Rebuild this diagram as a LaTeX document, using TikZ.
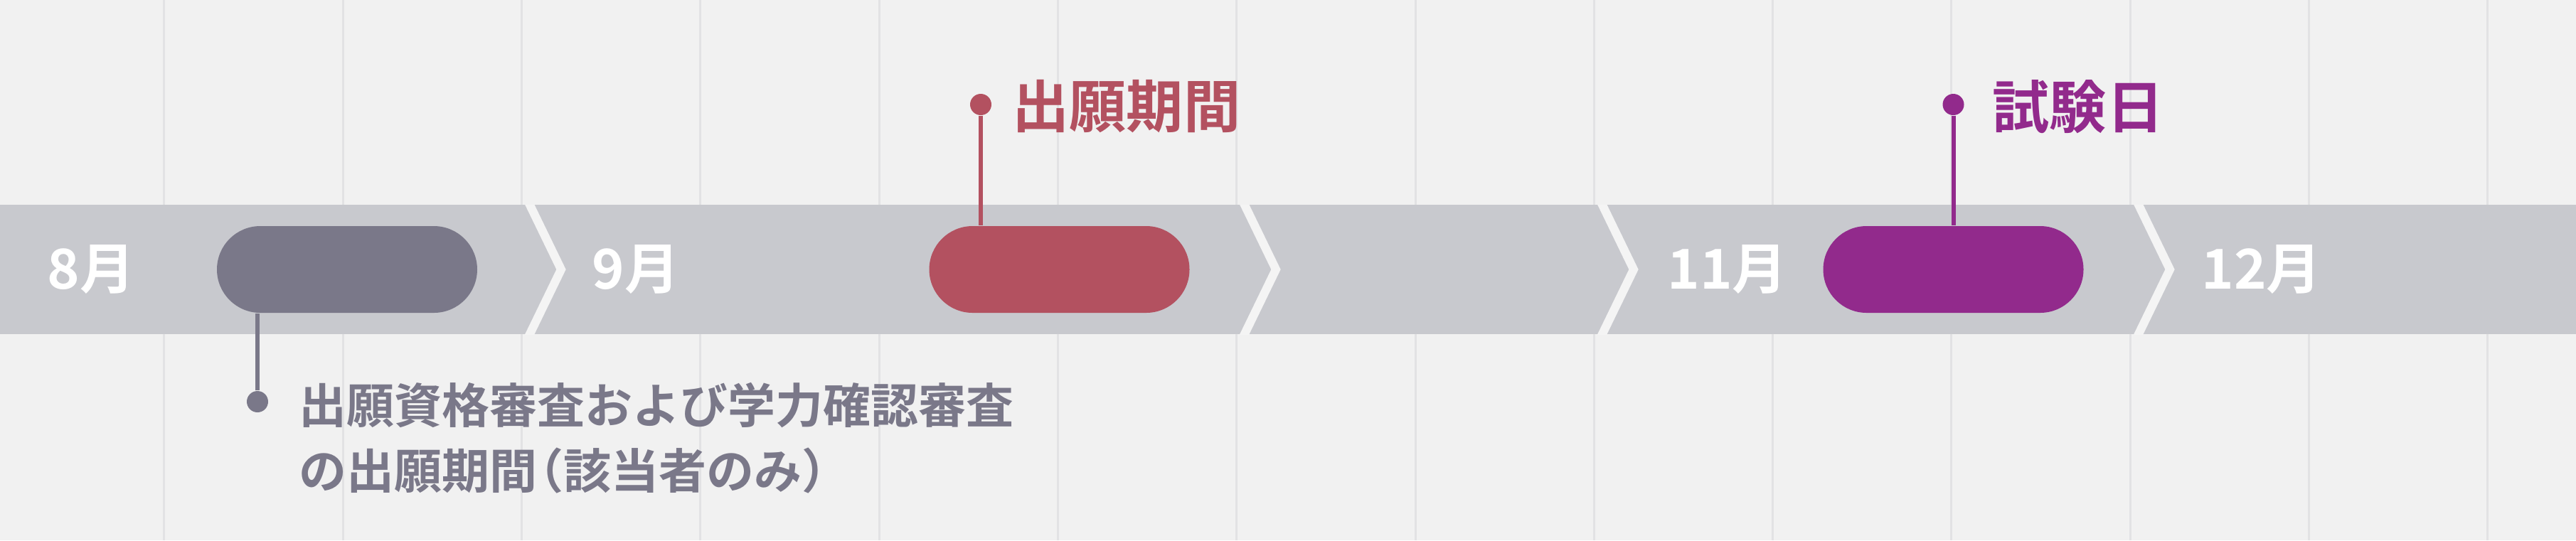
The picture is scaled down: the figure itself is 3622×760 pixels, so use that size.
\documentclass[tikz,border=0pt]{standalone}
\usepackage{fontspec}
\newfontfamily\jpb{Noto Sans CJK JP Bold}
\definecolor{bg}{HTML}{F1F1F1}
\definecolor{gridc}{HTML}{E2E2E4}
\definecolor{bandc}{HTML}{C8C9CE}
\definecolor{gapc}{HTML}{F4F4F4}
\definecolor{grayc}{HTML}{7A7889}
\definecolor{redc}{HTML}{B35160}
\definecolor{purplec}{HTML}{922A8C}

\begin{document}
\begin{tikzpicture}[x=0.1mm,y=-0.1mm,
  month/.style={anchor=west,inner sep=0,text=white,font=\jpb\fontsize{22pt}{22pt}\selectfont},
  title/.style={anchor=west,inner sep=0,font=\jpb\fontsize{22.8pt}{22.8pt}\selectfont},
  pill/.style={rounded corners=6.1mm,minimum width=36.6mm,minimum height=12.2mm,inner sep=0},
  pin/.style={circle,inner sep=0,minimum size=3mm},
  stem/.style={line width=0.6mm}]
\useasboundingbox (0,0) rectangle (3622,760);
\fill[bg] (0,0) rectangle (3622,760);
\draw[gridc,line width=0.3mm] (230,0) -- (230,760) (482,0) -- (482,760) (733,0) -- (733,760)
  (984,0) -- (984,760) (1236,0) -- (1236,760) (1487,0) -- (1487,760) (1738,0) -- (1738,760)
  (1990,0) -- (1990,760) (2241,0) -- (2241,760) (2492,0) -- (2492,760) (2743,0) -- (2743,760)
  (2995,0) -- (2995,760) (3246,0) -- (3246,760) (3497,0) -- (3497,760);

% month band
\fill[bandc] (0,288) rectangle (3622,470);
\begin{scope}
\clip (0,288) rectangle (3622,470);
\draw[gapc,line width=1.2mm] (741,280) -- (789,379) -- (741,478);
\draw[gapc,line width=1.2mm] (1746,280) -- (1794,379) -- (1746,478);
\draw[gapc,line width=1.2mm] (2249,280) -- (2297,379) -- (2249,478);
\draw[gapc,line width=1.2mm] (3003,280) -- (3051,379) -- (3003,478);
\end{scope}

\node[month] (aug) at (66,379) {8月};
\node[month] (sep) at (832,379) {9月};
\node[month] (nov) at (2344,379) {11月};
\node[month] (dec) at (3095,379) {12月};

% periods
\node[pill,fill=grayc] (screen) at (488,379) {};
\node[pill,fill=redc] (appl) at (1489.5,379) {};
\node[pill,fill=purplec] (exam) at (2746.5,379) {};

\node[pin,fill=grayc] (screendot) at (362,565) {};
\node[pin,fill=redc] (appldot) at (1379,147) {};
\node[pin,fill=purplec] (examdot) at (2746.5,147) {};
\draw[stem,grayc] (screendot) -- (screendot |- screen.south);
\draw[stem,redc] (appldot) -- (appldot |- appl.north);
\draw[stem,purplec] (examdot) -- (exam.north);

\node[title,text=redc] (appllabel) at (1423,150) {出願期間};
\node[title,text=purplec] (examlabel) at (2801,150) {試験日};
\node[anchor=north west,inner sep=0,align=left,text=grayc,
  font=\jpb\fontsize{19.06pt}{26.46pt}\selectfont] (screenlabel) at (420,537)
  {出願資格審査および学力確認審査\\の出願期間\kern-0.45em（該当者のみ）};
\end{tikzpicture}
\end{document}
